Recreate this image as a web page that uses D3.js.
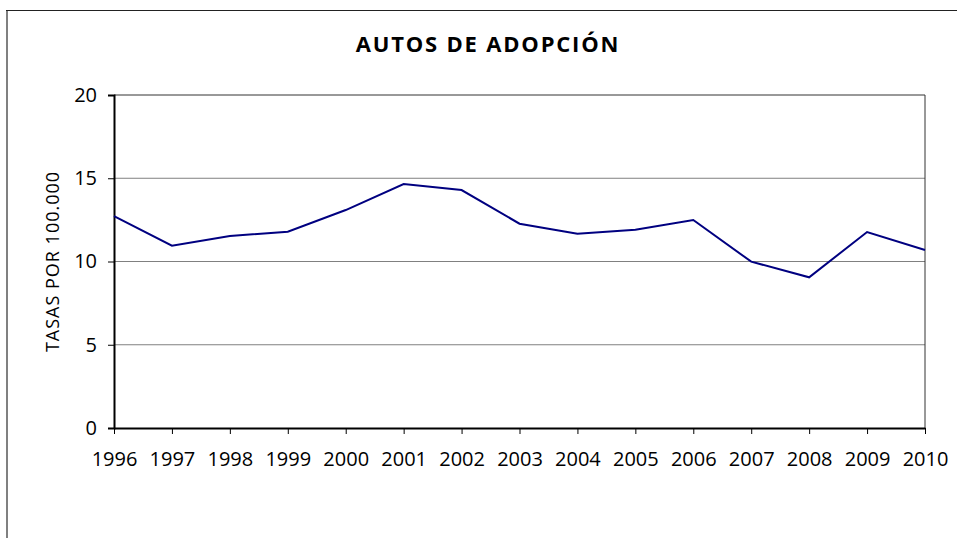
<!DOCTYPE html>
<html><head><meta charset="utf-8">
<script src="https://cdn.jsdelivr.net/npm/d3@7"></script>
<style>body{margin:0;background:#fff}svg{display:block}text{font-family:"Open Sans",sans-serif}</style>
</head><body>
<script>
const years = ["1996","1997","1998","1999","2000","2001","2002","2003","2004","2005","2006","2007","2008","2009","2010"];
const rates = [12.73,10.95,11.53,11.79,13.09,14.65,14.29,12.27,11.67,11.91,12.49,9.99,9.05,11.77,10.69];
const yTicks = [0,5,10,15,20];
const title = "AUTOS DE ADOPCIÓN";
const yLabel = "TASAS POR 100.000";

const W=957,H=538;
const svg=d3.select("body").append("svg").attr("width",W).attr("height",H);
// outer frame
svg.append("path").attr("d","M7,538 V10.5").attr("stroke","#808080").attr("stroke-width",2);
svg.append("path").attr("d","M6,10.5 H957").attr("stroke","#222").attr("stroke-width",1);

const L=114,R=925,T=95,B=428;
const x=d3.scalePoint().domain(years).range([L,R]);
const y=d3.scaleLinear().domain([0,20]).range([B,T]);

// gridlines
svg.append("g").selectAll("line").data(yTicks.filter(d=>d>0&&d<20)).join("line")
 .attr("x1",L).attr("x2",R).attr("y1",d=>y(d)).attr("y2",d=>y(d))
 .attr("stroke","#808080").attr("stroke-width",1);
// top & right border
svg.append("path").attr("d",`M${L},${T} H${R} V${B}`).attr("fill","none").attr("stroke","#333").attr("stroke-width",1);

const ya=svg.append("g").attr("transform",`translate(${L},0)`)
 .call(d3.axisLeft(y).tickValues(yTicks).tickSize(6).tickPadding(11));
ya.select(".domain").attr("stroke","#000").attr("stroke-width",2);
ya.selectAll(".tick line").attr("stroke","#000");
ya.selectAll("text").attr("font-size",20).attr("fill","#000").attr("font-family","'Open Sans',sans-serif");

const xa=svg.append("g").attr("transform",`translate(0,${B})`)
 .call(d3.axisBottom(x).tickSize(6).tickPadding(18).tickSizeOuter(0));
xa.select(".domain").attr("stroke","#000").attr("stroke-width",2);
xa.selectAll(".tick line").attr("stroke","#000");
xa.selectAll("text").attr("font-size",20).attr("fill","#000").attr("font-family","'Open Sans',sans-serif");

svg.append("path").datum(rates)
 .attr("d",d3.line().x((d,i)=>x(years[i])).y(d=>y(d)))
 .attr("fill","none").attr("stroke","#000080").attr("stroke-width",2);

svg.append("text").attr("x",488).attr("y",52).attr("text-anchor","middle")
 .attr("font-size",22).attr("font-weight","bold").attr("letter-spacing",1.8).text(title);

svg.append("text").attr("transform",`translate(59,${(T+B)/2}) rotate(-90)`)
 .attr("text-anchor","middle").attr("font-size",18).attr("letter-spacing",1).text(yLabel);
</script>
</body></html>
